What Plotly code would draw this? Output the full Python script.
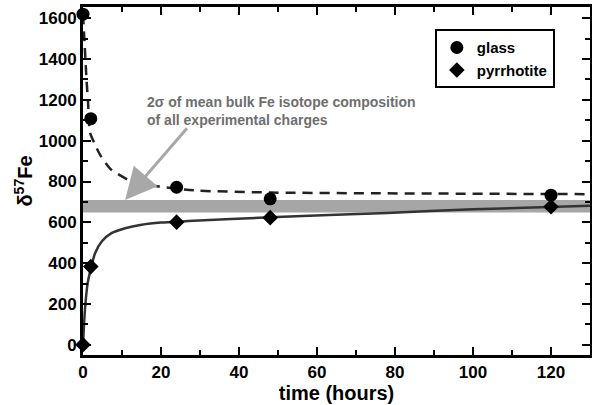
import plotly.graph_objects as go

# measured data
time_glass = [0, 2, 24, 48, 120]
d57_glass = [1620, 1108, 772, 715, 733]
time_pyrr = [0, 2, 24, 48, 120]
d57_pyrr = [0, 383, 601, 623, 676]

# fitted curves
fit_glass_x = [0, 0.45, 0.9, 1.3, 1.8, 3, 4.4, 7, 12, 19, 29, 48, 78, 130]
fit_glass_y = [1620, 1460, 1300, 1185, 1040, 985, 930, 862, 805, 777, 756, 746, 742, 738]
fit_pyrr_x = [0, 0.5, 1.2, 2, 3.1, 4.8, 7.3, 10.8, 15, 20, 27, 48, 78, 100, 130]
fit_pyrr_y = [0, 171, 302, 372, 449, 506, 547, 571, 588, 599, 606, 625, 646, 664, 681]

# 2 sigma band of mean bulk composition
band_low, band_high = 648, 710

x_ticks = [0, 20, 40, 60, 80, 100, 120]
y_ticks = [0, 200, 400, 600, 800, 1000, 1200, 1400, 1600]

FONT = "Liberation Sans, Arial, Helvetica, sans-serif"

fig = go.Figure()
fig.add_shape(type="rect", xref="paper", yref="y", x0=0, x1=1, y0=band_low, y1=band_high,
              fillcolor="#a6a6a6", line_width=0, layer="below")
fig.add_trace(go.Scatter(x=fit_glass_x, y=fit_glass_y, mode="lines", showlegend=False,
                         line=dict(color="#222222", width=2.5, dash="10px,7px", shape="spline", smoothing=0.6)))
fig.add_trace(go.Scatter(x=fit_pyrr_x, y=fit_pyrr_y, mode="lines", showlegend=False,
                         line=dict(color="#333333", width=2.5, shape="spline", smoothing=0.6)))
fig.add_trace(go.Scatter(x=time_glass, y=d57_glass, mode="markers", name="<b>glass</b>",
                         marker=dict(symbol="circle", size=13, color="black"), cliponaxis=False))
fig.add_trace(go.Scatter(x=time_pyrr, y=d57_pyrr, mode="markers", name="<b>pyrrhotite</b>",
                         marker=dict(symbol="diamond", size=12, color="black"), cliponaxis=False))

fig.add_annotation(x=10.8, y=710, ax=27, ay=1068, axref="x", ayref="y", xref="x", yref="y",
                   text="", showarrow=True, arrowhead=2, arrowsize=2.1, arrowwidth=3,
                   arrowcolor="#a8a8a8")
fig.add_annotation(x=15.9, y=1146, xref="x", yref="y", xanchor="left", yanchor="middle",
                   align="left", showarrow=False,
                   text="<b>2σ of mean bulk Fe isotope composition<br>of all experimental charges</b>",
                   font=dict(family=FONT, size=14, color="#6e6e6e"))

axis_common = dict(showline=True, linecolor="black", linewidth=3, mirror="allticks",
                   ticks="inside", ticklen=8, tickwidth=2, tickcolor="black",
                   showgrid=False, zeroline=False, automargin=False,
                   tickfont=dict(family=FONT, size=17, color="black"))

fig.update_xaxes(range=[0, 130], tickvals=x_ticks, ticktext=[f"<b>{v}</b>" for v in x_ticks],
                 minor=dict(ticks="inside", ticklen=5, tickwidth=2, dtick=10, tickcolor="black"),
                 title=dict(text="<b>time (hours)</b>", font=dict(family=FONT, size=20, color="black"),
                            standoff=0),
                 **axis_common)
fig.update_yaxes(range=[-50, 1655], tickvals=y_ticks, ticktext=[f"<b>{v}</b>" for v in y_ticks],
                 minor=dict(ticks="inside", ticklen=5, tickwidth=2, dtick=100, tickcolor="black"),
                 title=dict(text="<b>δ<sup>57</sup>Fe</b>", font=dict(family=FONT, size=20, color="black"),
                            standoff=1),
                 **axis_common)

fig.update_layout(width=592, height=405, margin=dict(l=83, r=2, t=7, b=50),
                  plot_bgcolor="white", paper_bgcolor="white",
                  legend=dict(x=0.694, y=0.936, xanchor="left", yanchor="top",
                              bordercolor="black", borderwidth=2, bgcolor="white",
                              font=dict(family=FONT, size=15, color="black"),
                              tracegroupgap=0))

fig.write_html("out.html", config={"displayModeBar": False},
               post_script="document.body.style.margin='0';")
